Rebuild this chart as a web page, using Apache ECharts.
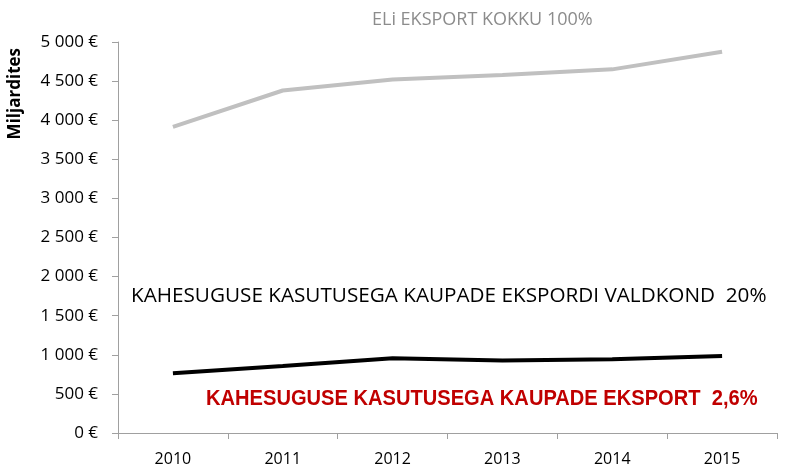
<!DOCTYPE html>
<html>
<head>
<meta charset="utf-8">
<script src="https://cdn.jsdelivr.net/npm/echarts@6/dist/echarts.min.js"></script>
<style>
  html, body { margin: 0; padding: 0; background: #fff; }
  #main { width: 795px; height: 468px; }
</style>
</head>
<body>
<div id="main"></div>
<script>
// andmed
var years = ['2010', '2011', '2012', '2013', '2014', '2015'];
var euTotal = [3915, 4380, 4520, 4578, 4650, 4875];
var dualField = [763, 857, 955, 928, 942, 985];
var yTicks = [0, 500, 1000, 1500, 2000, 2500, 3000, 3500, 4000, 4500, 5000];

var chart = echarts.init(document.getElementById('main'));

function fmtEuro(v) {
  var s = String(v);
  if (s.length > 3) s = s.slice(0, s.length - 3) + ' ' + s.slice(-3);
  return s + ' €';
}

var option = {
  animation: false,
  textStyle: { fontFamily: 'Open Sans' },
  grid: { left: 118, right: 18, top: 42, bottom: 35 },
  xAxis: {
    type: 'category',
    data: years,
    boundaryGap: true,
    axisLine: { lineStyle: { color: '#a0a0a0', width: 1 } },
    axisTick: { show: true, alignWithLabel: false, length: 6, lineStyle: { color: '#a0a0a0' } },
    axisLabel: { color: '#000', fontSize: 16, margin: 18 }
  },
  yAxis: {
    type: 'value',
    min: yTicks[0],
    max: yTicks[yTicks.length - 1],
    interval: 500,
    splitLine: { show: false },
    axisLine: { show: true, lineStyle: { color: '#a0a0a0', width: 1 } },
    axisTick: { show: true, length: 6, lineStyle: { color: '#a0a0a0' } },
    axisLabel: { color: '#000', fontSize: 17, margin: 20, formatter: fmtEuro }
  },
  graphic: [
    {
      type: 'text', left: 7, top: 48, rotation: Math.PI / 2,
      style: { text: 'Miljardites', fontSize: 17, fontWeight: 'bold', fill: '#000', fontFamily: 'Open Sans' }
    },
    {
      type: 'text', left: 372, top: 11,
      style: { text: 'ELi EKSPORT KOKKU 100%', fontSize: 18, fill: '#8c8c8c', fontFamily: 'Open Sans' }
    },
    {
      type: 'text', left: 131, top: 286,
      style: { text: 'KAHESUGUSE KASUTUSEGA KAUPADE EKSPORDI VALDKOND  20%', fontSize: 20.7, fill: '#000', fontFamily: 'Open Sans' }
    },
    {
      type: 'text', left: 206, top: 388, scaleX: 0.914,
      style: { text: 'KAHESUGUSE KASUTUSEGA KAUPADE EKSPORT  2,6%', fontSize: 22, fontWeight: 'bold', fill: '#c00000', fontFamily: 'Liberation Sans' }
    }
  ],
  series: [
    {
      name: 'ELi eksport kokku',
      type: 'line',
      data: euTotal,
      symbol: 'none',
      lineStyle: { color: '#c0c0c0', width: 4 }
    },
    {
      name: 'Kahesuguse kasutusega kaupade ekspordi valdkond',
      type: 'line',
      data: dualField,
      symbol: 'none',
      lineStyle: { color: '#000', width: 4 }
    }
  ]
};
chart.setOption(option);
</script>
</body>
</html>
